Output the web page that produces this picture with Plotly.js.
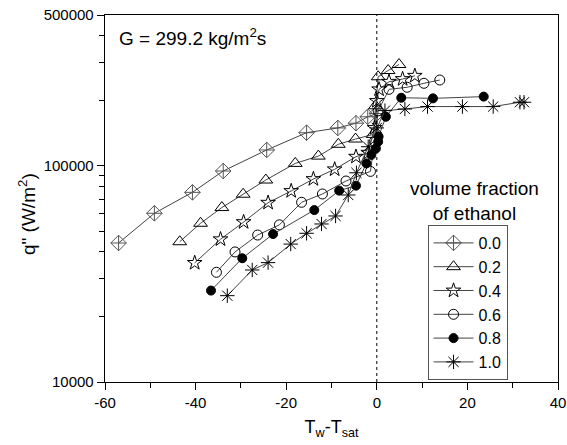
<!DOCTYPE html>
<html>
<head>
<meta charset="utf-8">
<script src="https://cdn.plot.ly/plotly-3.0.1.min.js"></script>
<style>html,body{margin:0;padding:0;background:#fff;}#chart{width:567px;height:445px;}</style>
</head>
<body>
<div id="chart"></div>
<script>
// Series: volume fraction of ethanol
const names = ["0.0", "0.2", "0.4", "0.6", "0.8", "1.0"];

const x00 = [-57.0, -49.1, -40.7, -33.9, -24.3, -15.5, -8.6, -4.6, -2.0, 0.0];
const q00 = [44000, 60400, 75500, 94800, 118600, 142600, 150000, 157800, 169000, 175000];

const x02 = [-43.5, -38.9, -34.2, -29.5, -24.5, -18.0, -12.9, -8.5, -4.7, -0.8, -0.3, 0.3, 2.5, 4.9];
const q02 = [44600, 54300, 64200, 74000, 86100, 102800, 111100, 126000, 133300, 140000, 190000, 258800, 276600, 295000];

const x04 = [-40.2, -34.5, -29.4, -24.0, -18.9, -14.0, -9.3, -4.6, -1.9, -0.5, 0.0, 0.5, 2.7, 5.7, 8.4];
const q04 = [35600, 45800, 55000, 67600, 76600, 87000, 96500, 110400, 115200, 150000, 200000, 226400, 245500, 252700, 261600];

const x06 = [-35.4, -31.3, -26.3, -21.5, -16.6, -12.0, -6.8, -1.4, -0.5, 0.3, 2.7, 6.7, 10.4, 13.9];
const q06 = [32200, 40000, 47900, 53400, 67900, 74200, 85200, 94400, 130000, 180000, 226400, 231400, 241400, 250000];

const x08 = [-36.6, -29.7, -22.9, -13.8, -8.3, -4.6, -2.3, -1.2, -0.2, 0.3, 0.4, 2.0, 5.4, 12.4, 23.6];
const q08 = [26500, 37400, 48400, 62500, 76900, 81100, 102800, 112500, 120500, 129600, 136800, 169000, 207000, 205600, 209500];

const x10 = [-33.0, -27.5, -24.0, -19.0, -15.5, -12.2, -9.1, -6.3, -4.5, -1.9, 0.0, 1.8, 6.2, 11.2, 18.9, 25.7, 31.6, 32.5];
const q10 = [25100, 33000, 35700, 43500, 48800, 53900, 58700, 73400, 93000, 122800, 150000, 180400, 183600, 188400, 188400, 188400, 197300, 197300];

const xTickVals = [-60, -40, -20, 0, 20, 40];
const xTickText = ["-60", "-40", "-20", "0", "20", "40"];
const yTickVals = [10000, 100000, 500000];
const yTickText = ["10000", "100000", "500000"];
const yMinorVals = [20000, 30000, 40000, 50000, 60000, 70000, 80000, 90000, 200000, 300000, 400000];

const xs = [x00, x02, x04, x06, x08, x10];
const qs = [q00, q02, q04, q06, q08, q10];
const symbols = ["diamond-cross-open", "triangle-up-open", "star-open", "circle-open", "circle", "asterisk-open"];
const sizes = [12, 12, 11, 10, 9, 12];
const markerColors = ["#555", "#000", "#000", "#000", "#000", "#000"];

const FONT = "Arial, 'Liberation Sans', sans-serif";

const traces = names.map((n, i) => ({
  type: "scatter",
  mode: "lines+markers",
  name: n,
  x: xs[i],
  y: qs[i],
  line: {color: "#444", width: 1},
  marker: {
    symbol: symbols[i],
    size: sizes[i],
    color: markerColors[i],
    line: {color: markerColors[i], width: 1}
  }
}));

const layout = {
  width: 567, height: 445,
  margin: {l: 105, r: 9, t: 15, b: 63},
  paper_bgcolor: "#fff",
  plot_bgcolor: "#fff",
  font: {family: FONT, size: 15, color: "#000"},
  showlegend: true,
  legend: {
    x: 0.712, y: 0.4278, xanchor: "left", yanchor: "top",
    bgcolor: "#fff", bordercolor: "#555", borderwidth: 1,
    font: {family: FONT, size: 16, color: "#000"},
    itemwidth: 40,
    tracegroupgap: 0
  },
  xaxis: {
    range: [-60, 40],
    tickmode: "array", tickvals: xTickVals, ticktext: xTickText,
    ticks: "outside", ticklen: 7, tickwidth: 1, tickcolor: "#000",
    minor: {tickmode: "linear", tick0: -50, dtick: 20, ticks: "outside", ticklen: 5, tickwidth: 1, tickcolor: "#000"},
    showline: true, linecolor: "#000", linewidth: 1.3, mirror: true,
    showgrid: false, zeroline: false,
    tickfont: {family: FONT, size: 15},
    title: {text: "T<sub>w</sub>-T<sub>sat</sub>", font: {family: FONT, size: 18}, standoff: 10}
  },
  yaxis: {
    type: "log",
    range: [4, Math.log10(500000)],
    tickmode: "array", tickvals: yTickVals, ticktext: yTickText,
    ticks: "outside", ticklen: 7, tickwidth: 1, tickcolor: "#000",
    minor: {tickmode: "array", tickvals: yMinorVals, ticks: "outside", ticklen: 5, tickwidth: 1, tickcolor: "#000"},
    showline: true, linecolor: "#000", linewidth: 1.3, mirror: true,
    showgrid: false, zeroline: false,
    tickfont: {family: FONT, size: 15},
    title: {text: ""}
  },
  shapes: [{
    type: "line", xref: "x", yref: "paper", x0: 0, x1: 0, y0: 0, y1: 1,
    line: {color: "#000", width: 1, dash: "3px,3px"}
  }],
  annotations: [
    {xref: "paper", yref: "paper", x: -0.172, y: 0.458, xanchor: "center", yanchor: "middle",
     textangle: -90, text: "q\" (W/m<sup>2</sup>)", showarrow: false, font: {family: FONT, size: 19}},
    {xref: "paper", yref: "paper", x: 0.027, y: 0.94, xanchor: "left", yanchor: "middle",
     text: "G = 299.2 kg/m<sup>2</sup>s", showarrow: false, font: {family: FONT, size: 19}},
    {xref: "paper", yref: "paper", x: 0.816, y: 0.492, xanchor: "center", yanchor: "middle",
     text: "volume fraction<br>of ethanol", showarrow: false, font: {family: FONT, size: 19}}
  ]
};

Plotly.newPlot("chart", traces, layout, {displayModeBar: false, staticPlot: true});
</script>
</body>
</html>
